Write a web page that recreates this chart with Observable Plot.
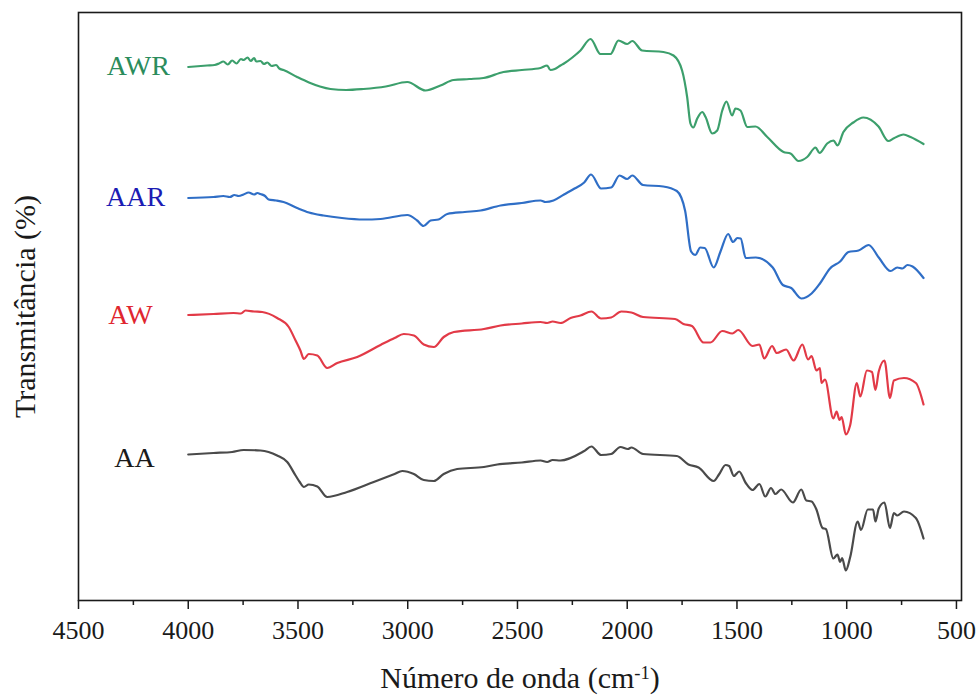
<!DOCTYPE html>
<html>
<head>
<meta charset="utf-8">
<script src="https://cdn.jsdelivr.net/npm/d3@7"></script>
<script src="https://cdn.jsdelivr.net/npm/@observablehq/plot@0.6"></script>
<style>
  body { margin: 0; background: #fff; }
  #chart svg { display: block; }
</style>
</head>
<body>
<div id="chart"></div>
<script>
// FTIR spectra, stacked: [wavenumber (cm-1), transmittance (offset, a.u.)]
const sampleNames = ["AWR", "AAR", "AW", "AA"];
const lineColors  = ["#3c9f6c", "#2f6ec6", "#e23a47", "#4a4a4a"];
const labelColors = ["#2b8c5c", "#1c1cb4", "#e0262f", "#1a1a1a"];

const awr = [
  [4000,106.7],[3914,107.0],[3880,107.1],[3860,107.4],[3840,107.8],[3820,107.2],[3800,108.0],
  [3780,107.4],[3760,108.3],[3748,108.1],[3730,108.6],[3715,107.9],[3700,108.5],[3690,107.8],
  [3671,107.9],[3655,107.3],[3640,107.6],[3620,106.9],[3600,107.1],[3585,106.4],[3566,106.1],
  [3504,104.7],[3450,103.6],[3400,102.8],[3352,102.3],[3280,102.1],[3202,102.3],[3100,102.8],
  [3002,103.7],[2919,102.0],[2851,103.0],[2791,104.1],[2720,104.3],[2655,104.5],[2564,105.7],
  [2480,106.1],[2395,106.5],[2365,107.0],[2350,106.1],[2330,106.3],[2304,107.0],[2288,107.4],
  [2250,108.6],[2213,110.0],[2167,112.3],[2122,109.3],[2076,109.3],[2040,112.0],[2000,111.3],
  [1977,111.9],[1932,110.0],[1835,109.7],[1789,109.0],[1750,106.0],[1727,100.7],[1712,95.4],
  [1699,94.6],[1681,96.4],[1658,97.7],[1643,96.7],[1613,93.4],[1590,94.0],[1567,98.0],
  [1548,99.8],[1522,97.0],[1507,98.4],[1484,98.0],[1453,94.7],[1416,94.8],[1362,92.7],
  [1288,89.7],[1256,89.4],[1220,87.9],[1180,88.7],[1142,90.6],[1124,89.5],[1089,91.4],
  [1060,92.0],[1042,91.0],[1015,93.7],[970,95.6],[924,96.6],[855,94.8],[810,91.9],
  [787,92.4],[741,93.2],[709,92.7],[650,91.3]
];

const aar = [
  [4000,80.5],[3885,80.7],[3840,80.9],[3810,80.7],[3790,81.1],[3770,80.9],[3748,81.2],
  [3725,81.6],[3700,81.2],[3685,81.5],[3671,81.3],[3650,80.9],[3634,80.2],[3600,80.0],
  [3566,79.7],[3504,78.5],[3450,77.6],[3384,77.0],[3300,76.5],[3202,76.2],[3124,76.3],
  [3002,77.1],[2957,76.0],[2928,74.9],[2896,76.0],[2860,76.2],[2820,77.3],[2740,77.7],
  [2668,78.0],[2577,79.0],[2480,79.5],[2395,80.0],[2372,79.7],[2336,80.0],[2288,81.2],
  [2240,82.4],[2196,83.6],[2165,85.2],[2119,82.4],[2073,82.6],[2035,85.0],[2000,84.3],
  [1977,85.0],[1928,83.1],[1836,82.8],[1774,81.9],[1736,77.9],[1709,69.8],[1690,69.1],
  [1667,70.6],[1647,70.5],[1606,66.6],[1575,69.8],[1540,73.3],[1518,71.7],[1498,72.5],
  [1483,72.4],[1460,68.5],[1414,68.6],[1337,66.6],[1291,63.1],[1253,62.5],[1207,60.4],
  [1160,61.4],[1122,63.4],[1076,66.4],[1030,67.8],[992,69.7],[946,70.0],[900,71.1],
  [854,68.6],[800,65.9],[770,66.6],[746,66.4],[723,67.1],[700,66.8],[650,64.5]
];

const aw = [
  [4000,57.1],[3885,57.3],[3794,57.5],[3760,57.4],[3739,58.0],[3700,57.8],[3663,57.7],
  [3595,56.5],[3542,54.7],[3511,52.0],[3489,50.0],[3473,48.3],[3451,49.3],[3412,49.0],
  [3367,46.5],[3321,47.5],[3230,48.7],[3124,51.1],[3060,52.5],[3018,53.3],[2972,53.0],
  [2927,51.2],[2881,50.7],[2836,52.7],[2790,53.7],[2653,54.3],[2577,55.0],[2480,55.4],
  [2395,55.7],[2365,55.5],[2340,55.8],[2304,55.5],[2258,56.5],[2213,57.0],[2163,57.8],
  [2119,56.4],[2073,56.6],[2027,57.8],[1981,57.6],[1928,56.7],[1782,56.3],[1744,55.3],
  [1705,54.9],[1652,51.6],[1621,51.6],[1567,53.9],[1521,53.4],[1494,54.1],[1429,50.9],
  [1398,51.2],[1376,48.4],[1340,50.9],[1319,49.5],[1276,50.2],[1242,48.0],[1202,51.2],
  [1176,48.2],[1160,48.9],[1138,46.0],[1122,46.5],[1115,43.5],[1099,44.2],[1061,36.4],
  [1046,37.8],[1033,36.1],[1023,36.7],[1004,33.2],[984,35.1],[954,43.5],[938,40.8],
  [908,46.0],[885,45.7],[869,42.1],[854,45.8],[828,48.0],[803,40.5],[785,44.0],
  [739,44.5],[685,43.5],[650,39.2]
];

const aa = [
  [4000,29.2],[3885,29.5],[3800,29.7],[3748,30.1],[3671,30.0],[3595,29.0],[3549,27.7],
  [3511,25.0],[3492,23.7],[3473,22.7],[3451,23.2],[3412,22.8],[3367,20.7],[3276,21.7],
  [3155,23.7],[3060,25.3],[3025,25.9],[2972,25.3],[2927,24.1],[2881,23.9],[2836,25.3],
  [2775,26.3],[2653,26.7],[2592,27.2],[2480,27.6],[2395,28.0],[2365,27.7],[2340,28.1],
  [2304,28.0],[2196,29.9],[2163,30.8],[2119,29.1],[2073,29.3],[2031,30.7],[1997,30.3],
  [1981,30.6],[1928,29.3],[1774,28.9],[1721,27.2],[1675,26.6],[1606,23.9],[1582,25.2],
  [1552,27.1],[1536,26.9],[1514,24.9],[1490,25.8],[1460,23.5],[1429,22.1],[1398,23.3],
  [1371,20.8],[1345,22.5],[1325,21.3],[1299,22.2],[1245,19.6],[1207,22.2],[1184,20.0],
  [1160,19.8],[1138,18.2],[1110,14.5],[1095,14.3],[1061,8.4],[1042,9.2],[1030,7.7],
  [1021,8.5],[1004,6.0],[984,8.7],[950,15.8],[935,14.1],[904,18.2],[880,18.2],
  [869,15.8],[854,18.4],[828,19.6],[803,14.5],[785,17.5],[770,17.0],[739,17.8],
  [685,16.5],[650,12.4]
];

// where each sample name sits, in data units
const labelWavenumber = [4227, 4240, 4263, 4245];
const labelLevel      = [106.8, 80.6, 57.0, 28.4];

const majorTicks = d3.range(500, 4501, 500);
const minorTicks = d3.range(750, 4500, 500);

const rows = [];
[awr, aar, aw, aa].forEach((s, i) =>
  s.forEach(([w, t]) => rows.push({sample: sampleNames[i], w, t}))
);

const serif = "'Liberation Serif', 'Times New Roman', Times, serif";

const plot = Plot.plot({
  width: 977,
  height: 697,
  marginTop: 12,
  marginBottom: 97,
  marginLeft: 78,
  marginRight: 16,
  style: {fontFamily: serif, fontSize: "26px", background: "#fff", color: "#1a1a1a"},
  x: {domain: [4500, 477], axis: null},
  y: {domain: [0, 117.6], axis: null},
  color: {domain: sampleNames, range: lineColors},
  marks: [
    Plot.line(rows, {
      x: "w", y: "t", z: "sample", stroke: "sample", curve: "monotone-x",
      strokeWidth: 2.2, strokeLinejoin: "round", strokeLinecap: "round"
    }),
    ...sampleNames.map((name, i) =>
      Plot.text([name], {
        x: () => labelWavenumber[i], y: () => labelLevel[i], text: d => d,
        fill: labelColors[i], fontSize: 28, textAnchor: "middle", lineAnchor: "middle"
      })
    ),
    Plot.frame({stroke: "#1a1a1a", strokeWidth: 1.6}),
    Plot.axisX({
      ticks: majorTicks, tickSize: 9, tickPadding: 11, tickFormat: d => String(d),
      fontSize: 26, label: null, stroke: "#1a1a1a", strokeWidth: 1.5, fill: "#1a1a1a"
    }),
    Plot.axisX({
      ticks: minorTicks, tickSize: 5, tickFormat: () => "", label: null,
      stroke: "#1a1a1a", strokeWidth: 1.5
    }),
    Plot.text(["Número de onda (cm-1)"], {
      frameAnchor: "bottom", dy: 78, text: d => d, fontSize: 30,
      textAnchor: "middle", lineAnchor: "middle", fill: "#1a1a1a"
    }),
    Plot.text(["Transmitância (%)"], {
      frameAnchor: "left", dx: -53, rotate: -90, text: d => d, fontSize: 30,
      textAnchor: "middle", lineAnchor: "middle", fill: "#1a1a1a"
    })
  ]
});

// superscript the exponent in the x title
d3.select(plot).selectAll("text")
  .filter(function () { return this.textContent === "Número de onda (cm-1)"; })
  .each(function () {
    const t = d3.select(this);
    t.text(null);
    t.append("tspan").text("Número de onda (cm");
    t.append("tspan").attr("dy", "-0.5em").attr("font-size", "62%").text("-1");
    t.append("tspan").attr("dy", "0.31em").text(")");
  });

document.getElementById("chart").appendChild(plot);
</script>
</body>
</html>
